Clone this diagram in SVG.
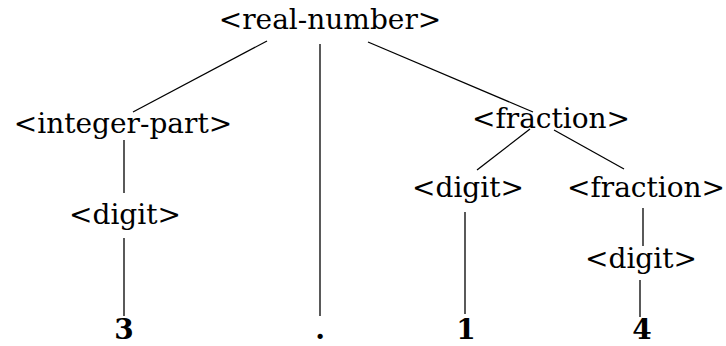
<svg xmlns="http://www.w3.org/2000/svg" width="726" height="346" viewBox="0 0 726 346">
<style>
text{font-family:"DejaVu Serif","Liberation Serif",serif;font-size:28px;fill:#000;text-anchor:middle}
.b{font-weight:bold}
line{stroke:#000;stroke-width:1.3}
</style>
<rect width="726" height="346" fill="#fff"/>
<g id="connectors">
<line x1="267" y1="41" x2="133" y2="112"/>
<line x1="320" y1="44" x2="320" y2="316"/>
<line x1="368" y1="42" x2="533" y2="112"/>
<line x1="124" y1="140" x2="124" y2="193"/>
<line x1="124" y1="238" x2="124" y2="316"/>
<line x1="530" y1="129" x2="477" y2="170"/>
<line x1="554" y1="130" x2="624" y2="169"/>
<line x1="465" y1="212" x2="465" y2="314"/>
<line x1="643" y1="208" x2="643" y2="246"/>
<line x1="640" y1="280" x2="640" y2="317"/>
</g>
<g id="real-number"><text x="330" y="29">&lt;real-number&gt;</text></g>
<g id="integer-part"><text x="123" y="133">&lt;integer-part&gt;</text></g>
<g id="fraction1"><text x="551" y="128">&lt;fraction&gt;</text></g>
<g id="digit1"><text x="125" y="224">&lt;digit&gt;</text></g>
<g id="digit2"><text x="468" y="197">&lt;digit&gt;</text></g>
<g id="fraction2"><text x="646" y="197">&lt;fraction&gt;</text></g>
<g id="digit3"><text x="641" y="268">&lt;digit&gt;</text></g>
<g id="t3"><text class="b" x="124" y="339">3</text></g>
<g id="tdot"><text class="b" x="320" y="339">.</text></g>
<g id="t1"><text class="b" x="466" y="339">1</text></g>
<g id="t4"><text class="b" x="642" y="339">4</text></g>
</svg>
